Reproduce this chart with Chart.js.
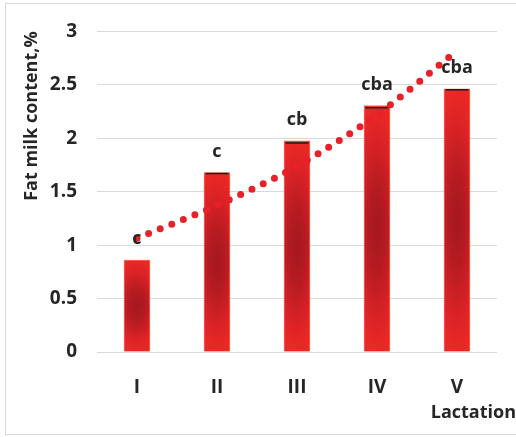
<!DOCTYPE html>
<html>
<head>
<meta charset="utf-8">
<script src="https://cdn.jsdelivr.net/npm/chart.js@4.4.1/dist/chart.umd.min.js"></script>
<style>
  html, body { margin: 0; padding: 0; background: #fff; }
  #wrap { width: 516px; height: 437px; }
</style>
</head>
<body>
<div id="wrap"><canvas id="fatChart" width="516" height="437"></canvas></div>
<script>
// Lactation categories and fat content values
var lactations = ['I', 'II', 'III', 'IV', 'V'];
var fatMeans = [0.86, 1.68, 1.975, 2.305, 2.462];
var fatCaps = [null, 1.67, 1.955, 2.285, 2.455];
var trendValues = [1.065, 1.373, 1.739, 2.219, 2.819];
var groupLetters = ['c', 'c', 'cb', 'cba', 'cba'];
var yTicks = [0, 0.5, 1, 1.5, 2, 2.5, 3];

var textColor = '#262626';
var fontFamily = '"Open Sans", sans-serif';

// Red bar fill, dark towards the middle of each bar
function barFill(context) {
    var chart = context.chart;
    if (!chart.chartArea || context.raw == null) return '#e6262a';
    var w = 26;
    var x = chart.scales.x.getPixelForValue(context.dataIndex);
    var top = chart.scales.y.getPixelForValue(context.raw);
    var bottom = chart.scales.y.getPixelForValue(0);
    var h = Math.max(1, bottom - top);
    var off = document.createElement('canvas');
    off.width = w;
    off.height = Math.ceil(h) + 1;
    var g = off.getContext('2d');
    g.save();
    g.translate(w / 2, h / 2);
    g.scale(w * 1.1, h * 0.55);
    var grad = g.createRadialGradient(0, 0, 0, 0, 0, 1);
    grad.addColorStop(0, '#a3191f');
    grad.addColorStop(0.3, '#b41b21');
    grad.addColorStop(0.7, '#de2326');
    grad.addColorStop(1, '#ee2b24');
    g.fillStyle = grad;
    g.fillRect(-3, -3, 6, 6);
    g.restore();
    var pat = chart.ctx.createPattern(off, 'no-repeat');
    pat.setTransform(new DOMMatrix().translate(x - w / 2, top));
    return pat;
}

// Outer frame and the x axis name
var framePlugin = {
    id: 'frame',
    beforeDraw: function (chart) {
        var c = chart.ctx;
        c.save();
        c.strokeStyle = '#d9d9d9';
        c.lineWidth = 1;
        c.strokeRect(5.5, 3.5, 530, 431);
        c.restore();
    },
    afterDraw: function (chart) {
        var c = chart.ctx;
        c.save();
        c.font = 'bold 18px ' + fontFamily;
        c.fillStyle = textColor;
        c.textAlign = 'right';
        c.textBaseline = 'middle';
        c.fillText('Lactation', chart.chartArea.right + 19, 413);
        c.restore();
    }
};

// Letters above the bars
var letterPlugin = {
    id: 'letters',
    afterDatasetsDraw: function (chart) {
        var meta = chart.getDatasetMeta(0);
        var c = chart.ctx;
        c.save();
        c.font = 'bold 18px ' + fontFamily;
        c.fillStyle = textColor;
        c.textAlign = 'center';
        c.textBaseline = 'middle';
        meta.data.forEach(function (bar, i) {
            c.fillText(groupLetters[i], bar.x, bar.y - 21);
        });
        c.restore();
    }
};

var ctx = document.getElementById('fatChart').getContext('2d');
var fatChart = new Chart(ctx, {
    data: {
        labels: lactations,
        datasets: [{
            type: 'bar',
            data: fatMeans,
            backgroundColor: barFill,
            borderColor: 'rgba(246, 92, 70, 0.9)',
            borderWidth: 1,
            barThickness: 26,
            order: 3
        }, {
            type: 'line',
            data: fatCaps,
            showLine: false,
            pointStyle: 'line',
            pointRadius: 11.5,
            pointBorderWidth: 1.5,
            pointBorderColor: '#1c1c1c',
            order: 2
        }, {
            type: 'line',
            data: trendValues,
            borderColor: '#e8202a',
            borderWidth: 7,
            borderDash: [0, 12.5],
            borderCapStyle: 'round',
            cubicInterpolationMode: 'monotone',
            pointRadius: 0,
            fill: false,
            order: 1
        }]
    },
    options: {
        responsive: false,
        animation: false,
        layout: { padding: { left: 0, right: 19, top: 27, bottom: 0 } },
        plugins: {
            legend: { display: false },
            tooltip: { enabled: false }
        },
        scales: {
            x: {
                grid: { display: false },
                border: { display: false },
                ticks: {
                    color: textColor,
                    padding: 16,
                    font: { family: fontFamily, size: 19, weight: 'bold' }
                },
                afterFit: function (scale) { scale.height = 85; }
            },
            y: {
                min: 0,
                max: 3,
                afterBuildTicks: function (scale) {
                    scale.ticks = yTicks.map(function (v) { return { value: v }; });
                },
                grid: { color: '#d9d9d9', lineWidth: 1, drawTicks: false },
                border: { display: false },
                ticks: {
                    color: textColor,
                    padding: 20,
                    font: { family: fontFamily, size: 19, weight: 'bold' },
                    callback: function (value) { return String(value); }
                },
                title: {
                    display: true,
                    text: 'Fat milk content,%',
                    align: 'end',
                    color: textColor,
                    padding: { top: 21, bottom: 0 },
                    font: { family: fontFamily, size: 18, weight: 'bold', lineHeight: 1.2 }
                },
                afterFit: function (scale) { scale.width = 97; }
            }
        }
    },
    plugins: [framePlugin, letterPlugin]
});
</script>
</body>
</html>
